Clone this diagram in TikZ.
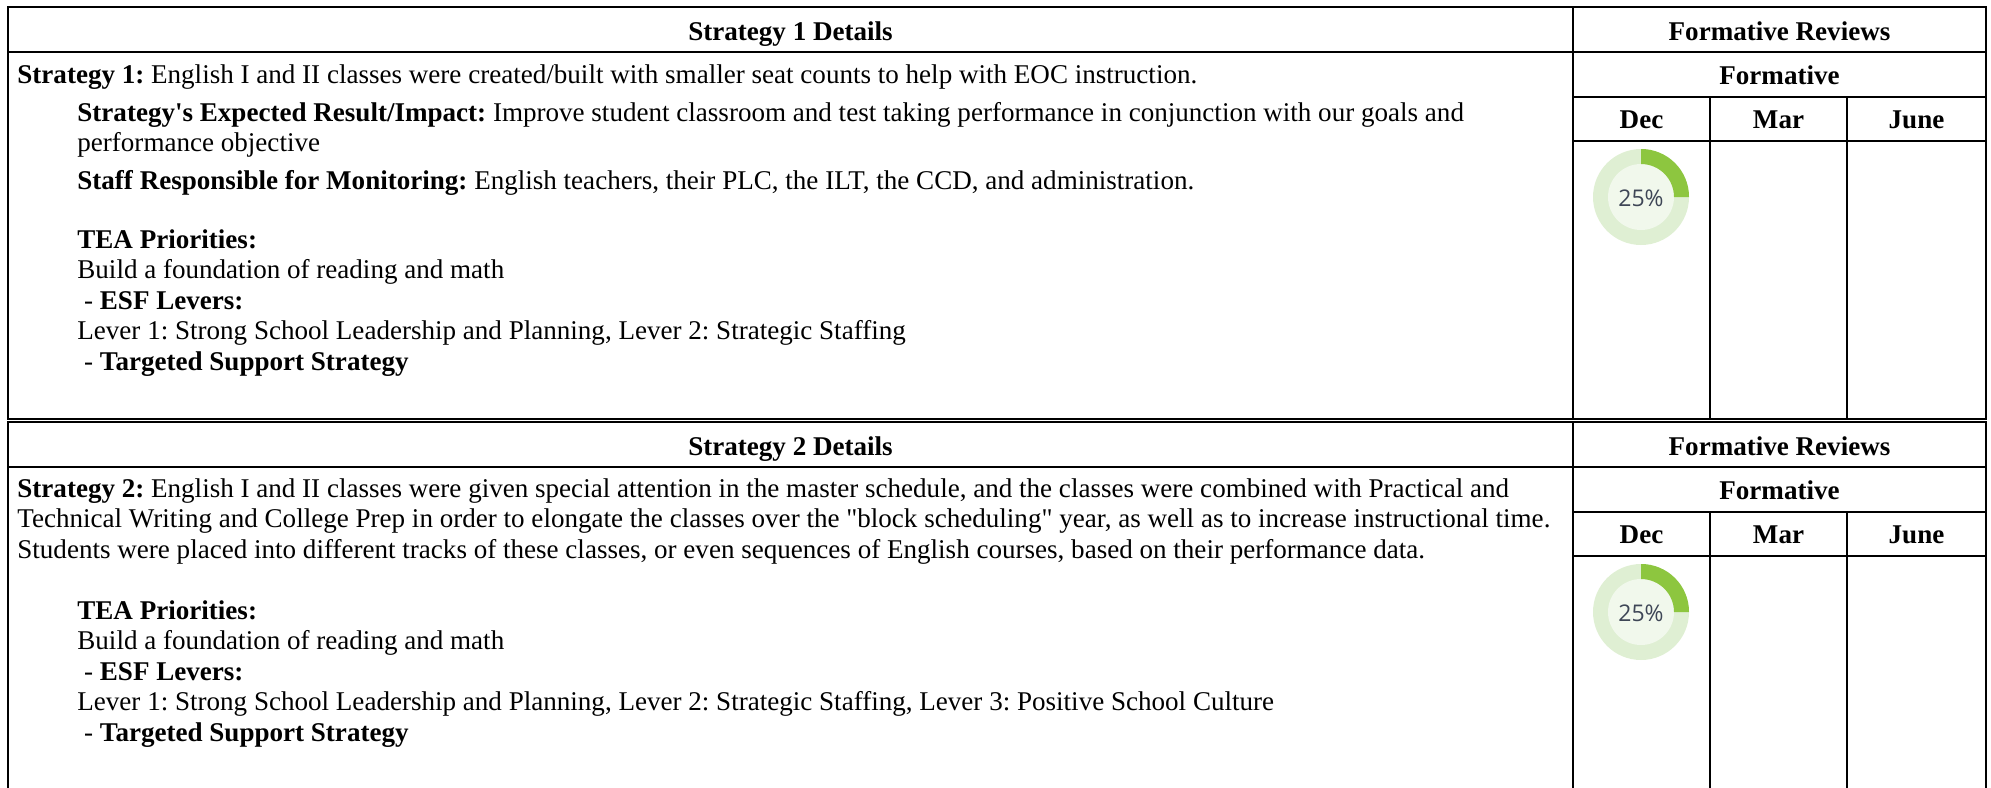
\documentclass[tikz,border=0pt]{standalone}
\usepackage{fontspec}
\setmainfont{Liberation Serif}
\newfontfamily\pctfont{Open Sans}
\usetikzlibrary{positioning}
\frenchspacing
\definecolor{ringgreen}{HTML}{8DC63F}
\definecolor{ringpale}{HTML}{DFEFD3}
\definecolor{ringcore}{HTML}{F1F8EC}
\definecolor{pcttext}{HTML}{3E4656}
\tikzset{
  grid line/.style={line width=1.1pt},
  cell/.style={inner sep=0pt,anchor=base west,font=\fontsize{13.53}{16}\selectfont},
  cell head/.style={inner sep=0pt,anchor=base,font=\fontsize{13.53}{16}\selectfont\bfseries},
  pct/.style={inner sep=0pt,font=\pctfont\fontsize{11.5}{13}\selectfont,text=pcttext}
}

\begin{document}
\begin{tikzpicture}[x=0.5pt,y=-0.5pt]
\clip (0,0) rectangle (1991,787);
%
% the two blocks share the same frame and the review panel
\foreach \top/\bot/\n in {7/419/1, 422/800/2}
{
    \draw[grid line] (8,\top) rectangle (1986,\bot);
    \draw[grid line] (8,\top+45) -- (1986,\top+45);
    \draw[grid line] (1573,\top+90) -- (1986,\top+90);
    \draw[grid line] (1573,\top+134) -- (1986,\top+134);
    \draw[grid line] (1573,\top) -- (1573,\bot);
    \foreach \X in {1710,1847}
    {\draw[grid line] (\X,\top+90) -- (\X,\bot);}
    \node[cell head] (head\n) at (790.5,\top+33) {Strategy \n\ Details};
    \node[cell head] (rev\n) at (1779.5,\top+33) {Formative Reviews};
    \node[cell head] (form\n) at (1779.5,\top+77) {Formative};
    \node[cell head] (dec\n) at (1641.5,\top+121) {Dec};
    \node[cell head] (mar\n) at (1778.5,\top+121) {Mar};
    \node[cell head] (june\n) at (1916.5,\top+121) {June};
    % progress ring, a quarter done
    \fill[ringpale] (1641,\top+190) circle (24pt);
    \fill[ringcore] (1641,\top+190) circle (16.5pt);
    \fill[ringgreen] (1641,\top+190) ++(90:24pt) arc[start angle=90,end angle=0,radius=24pt]
        -- ++(-7.5pt,0) arc[start angle=0,end angle=90,radius=16.5pt] -- cycle;
    \node[pct] (ring\n) at (1641,\top+191) {25\%};
}
%
% strategy 1
\node[cell] (s1a) at (17,83) {\textbf{Strategy 1:} English I and II classes were created/built with smaller seat counts to help with EOC instruction.};
\node[cell] (s1b) at (77,121) {\textbf{Strategy\textquotesingle s Expected Result/Impact:} Improve student classroom and test taking performance in conjunction with our goals and};
\node[cell] (s1c) at (77,151) {performance objective};
\node[cell] (s1d) at (77,189) {\textbf{Staff Responsible for Monitoring:} English teachers, their PLC, the ILT, the CCD, and administration.};
\node[cell] (s1e) at (77,248) {\textbf{TEA Priorities:}};
\node[cell] (s1f) at (77,278) {Build a foundation of reading and math};
\node[cell] (s1g) at (77,309) {\ - \textbf{ESF Levers:}};
\node[cell] (s1h) at (77,339) {Lever 1: Strong School Leadership and Planning, Lever 2: Strategic Staffing};
\node[cell] (s1i) at (77,370) {\ - \textbf{Targeted Support Strategy}};
%
% strategy 2
\node[cell] (s2a) at (17,497) {\textbf{Strategy 2:} English I and II classes were given special attention in the master schedule, and the classes were combined with Practical and};
\node[cell] (s2b) at (17,527) {Technical Writing and College Prep in order to elongate the classes over the \textquotedbl block scheduling\textquotedbl\ year, as well as to increase instructional time.};
\node[cell] (s2c) at (17,558) {Students were placed into different tracks of these classes, or even sequences of English courses, based on their performance data.};
\node[cell] (s2d) at (77,619) {\textbf{TEA Priorities:}};
\node[cell] (s2e) at (77,649) {Build a foundation of reading and math};
\node[cell] (s2f) at (77,680) {\ - \textbf{ESF Levers:}};
\node[cell] (s2g) at (77,710) {Lever 1: Strong School Leadership and Planning, Lever 2: Strategic Staffing, Lever 3: Positive School Culture};
\node[cell] (s2h) at (77,741) {\ - \textbf{Targeted Support Strategy}};
\end{tikzpicture}
\end{document}
